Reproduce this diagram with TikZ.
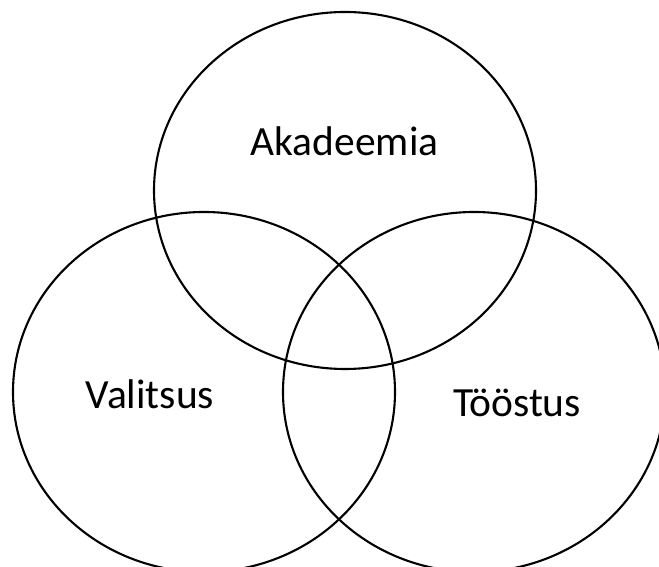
\documentclass[tikz,border=0pt]{standalone}
\usepackage{fontspec}
\setmainfont{Carlito}
\begin{document}
\begin{tikzpicture}[x=1pt,y=1pt,
  ring/.style={draw=black,line width=2.1pt},
  lbl/.style={anchor=base,inner sep=0pt,font=\fontsize{41.5}{48}\selectfont}]
\clip (0,0) rectangle (659,567);
\useasboundingbox (0,0) rectangle (659,567);
\draw[ring] (345,376.5) ellipse [x radius=191, y radius=178.5];
\draw[ring] (204,175) ellipse [x radius=191, y radius=180];
\draw[ring] (474,175) ellipse [x radius=191, y radius=180];
\node[lbl] (aka) at (344.5,411.3) {Akadeemia};
\node[lbl] (val) at (150,158) {Valitsus};
\node[lbl] (too) at (517,150) {Tööstus};
\end{tikzpicture}
\end{document}
